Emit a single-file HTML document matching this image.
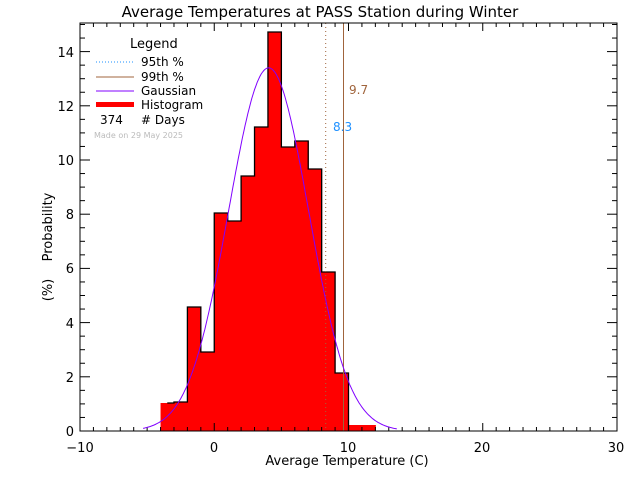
<!DOCTYPE html>
<html><head><meta charset="utf-8"><style>
html,body{margin:0;padding:0;background:#fff}
svg{display:block;font-family:"DejaVu Sans","Liberation Sans",sans-serif}
</style></head><body>
<svg id="s" width="640" height="480" viewBox="0 0 640 480" xmlns="http://www.w3.org/2000/svg">
<rect width="640" height="480" fill="#fff"/>
<g id="bars"></g>
<g id="ticks" stroke="#000" stroke-width="1"></g>
<line x1="325.7" y1="23" x2="325.7" y2="431" stroke="#a0643c" stroke-dasharray="1,3"/>
<line x1="343.5" y1="23" x2="343.5" y2="431" stroke="#a0643c"/>
<path id="gauss" fill="none" stroke="#8000ff" stroke-width="1"/>
<rect x="80" y="23" width="537" height="408" fill="none" stroke="#000"/>
<text x="320" y="17" font-size="15" text-anchor="middle">Average Temperatures at PASS Station during Winter</text>
<text x="347" y="465" font-size="13" text-anchor="middle">Average Temperature (C)</text>
<text transform="translate(52,227) rotate(-90)" font-size="13" text-anchor="middle">Probability</text>
<text transform="translate(52,290) rotate(-90)" font-size="13" text-anchor="middle">(%)</text>
<g font-size="13" text-anchor="middle">
<text x="80" y="452">−10</text><text x="214" y="452">0</text><text x="348" y="452">10</text><text x="482" y="452">20</text><text x="616" y="452">30</text>
</g>
<g font-size="13" text-anchor="end">
<text x="74" y="436">0</text><text x="74" y="382">2</text><text x="74" y="328">4</text><text x="74" y="273">6</text><text x="74" y="219">8</text><text x="74" y="165">10</text><text x="74" y="111">12</text><text x="74" y="57">14</text>
</g>
<text x="130" y="48" font-size="13">Legend</text>
<line x1="96" y1="62" x2="134" y2="62" stroke="#1e90ff" stroke-dasharray="1,2"/>
<line x1="96" y1="77" x2="134" y2="77" stroke="#a0643c"/>
<line x1="96" y1="91" x2="134" y2="91" stroke="#8000ff"/>
<rect x="96" y="102" width="38" height="5" fill="#f00"/>
<g font-size="12"><text x="141" y="66">95th %</text><text x="141" y="81">99th %</text><text x="141" y="95">Gaussian</text><text x="141" y="109">Histogram</text><text x="100" y="124">374</text><text x="141" y="124"># Days</text></g>
<text x="94" y="138" font-size="8" fill="#bbb">Made on 29 May 2025</text>
<text x="349" y="94" font-size="12" fill="#a0643c">9.7</text>
<text x="333" y="131" font-size="12" fill="#1e90ff">8.3</text>
</svg>
<script>
var X=v=>214.25+13.425*v, Y=v=>431-27.1*v;
var tops=[403,402,307,352,213,221,176,127,32,147,141,169,272,373,425,425];
var b=document.getElementById('bars'),h='';
for(var i=0;i<tops.length;i++){var x0=X(-4+i),x1=X(-3+i);
h+='<rect x="'+x0+'" y="'+tops[i]+'" width="'+(x1-x0+0.5)+'" height="'+(431-tops[i])+'" fill="#f00"/>';}
var p='M'+X(-3.5)+','+tops[0];
for(var i=1;i<tops.length-2;i++){p+=' L'+X(-4+i)+','+tops[i-1]+' L'+X(-4+i)+','+tops[i];}
p+=' L'+X(10)+','+tops[13]+' L'+X(10)+',431';
h+='<path d="'+p+'" fill="none" stroke="#000" stroke-width="1.3"/>';
b.innerHTML=h;
var g='';for(var v=-5.3;v<=13.6;v+=0.1){var y=13.4*Math.exp(-Math.pow(v-4.05,2)/(2*2.98*2.98));g+=(g?' L':'M')+X(v).toFixed(1)+','+Y(y).toFixed(1);}
document.getElementById('gauss').setAttribute('d',g);
var t='';
for(var v=-10;v<=30;v++){var L=(v%10==0)?8:4;t+='<line x1="'+X(v)+'" y1="431" x2="'+X(v)+'" y2="'+(431-L)+'"/><line x1="'+X(v)+'" y1="23" x2="'+X(v)+'" y2="'+(23+L)+'"/>';}
for(var v=0;v<=15;v+=0.5){var L=(v%2==0)?10:5;t+='<line x1="80" y1="'+Y(v)+'" x2="'+(80+L)+'" y2="'+Y(v)+'"/><line x1="617" y1="'+Y(v)+'" x2="'+(617-L)+'" y2="'+Y(v)+'"/>';}
document.getElementById('ticks').innerHTML=t;
</script>
</body></html>
